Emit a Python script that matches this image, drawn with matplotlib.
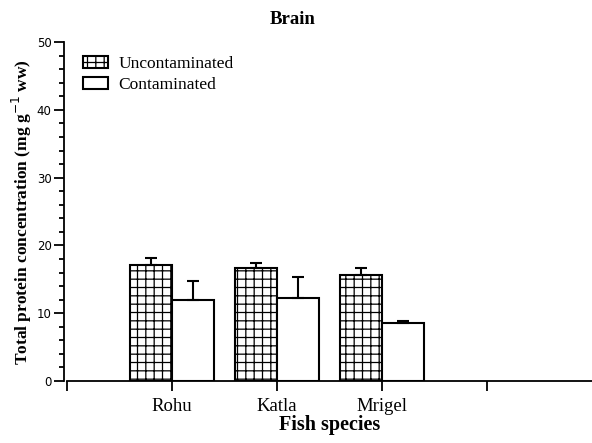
import numpy as np
import matplotlib
matplotlib.use('Agg')
import matplotlib.pyplot as plt
from matplotlib.ticker import MultipleLocator

# values (mg g-1 ww)
species = ['Rohu', 'Katla', 'Mrigel']
uncontam = [17.1, 16.6, 15.7]
uncontam_err = [1.1, 0.8, 0.9]
contam = [12.0, 12.2, 8.6]
contam_err = [2.8, 3.2, 0.3]

plt.rcParams['hatch.linewidth'] = 0.9
serif = ['Liberation Serif', 'DejaVu Serif']

fig = plt.figure(figsize=(5.92, 4.43), dpi=100)
ax = fig.add_axes([0.113, 0.14, 0.887, 0.765])

x = np.arange(1, len(species) + 1)
w = 0.4
ekw = dict(lw=1.5, capthick=1.5)
ax.bar(x - w / 2, uncontam, w, color='white', edgecolor='black', hatch='++', lw=1.5,
       yerr=[np.zeros(3), uncontam_err], capsize=4.5, error_kw=ekw, label='Uncontaminated', zorder=2)
ax.bar(x + w / 2, contam, w, color='white', edgecolor='black', lw=1.5,
       yerr=[np.zeros(3), contam_err], capsize=4.5, error_kw=ekw, label='Contaminated', zorder=2)

ax.set_xlim(0, 5)
ax.set_ylim(0, 50)
ax.set_xticks([0, 1, 2, 3, 4])
ax.set_xticklabels([''] + species + [''], fontsize=13.5, family=serif)
ax.yaxis.set_major_locator(MultipleLocator(10))
ax.yaxis.set_minor_locator(MultipleLocator(2))
ax.tick_params(axis='y', which='major', length=7, width=1.3, labelsize=8.5, pad=2)
ax.tick_params(axis='y', which='minor', length=3.5, width=1.3)
ax.tick_params(axis='x', length=7, width=1.3, pad=5)
for lab in ax.get_yticklabels():
    lab.set_family(['Liberation Sans Narrow', 'Liberation Sans', 'DejaVu Sans'])

for s in ['top', 'right']:
    ax.spines[s].set_visible(False)
for s in ['left', 'bottom']:
    ax.spines[s].set_linewidth(1.3)
ax.spines['left'].set_position(('outward', 2))

ax.set_xlabel('Fish species', fontsize=14.5, fontweight='bold', family=serif, labelpad=0)
ax.set_ylabel('Total protein concentration (mg g$^{-1}$ ww)', fontsize=12.5, fontweight='bold',
              family=serif, labelpad=2)
fig.text(0.494, 0.955, 'Brain', ha='center', va='center', fontsize=13.5, fontweight='bold', family=serif)

leg = ax.legend(loc='upper left', bbox_to_anchor=(0.0, 1.005), frameon=False,
                prop={'family': serif, 'size': 12.5}, handlelength=1.45, handleheight=0.65,
                handletextpad=0.6, labelspacing=0.3)

fig.savefig('out.png', dpi=100)
